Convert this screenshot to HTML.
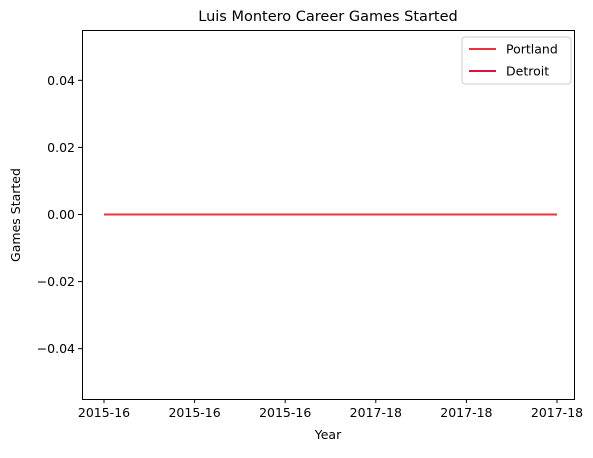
<!DOCTYPE html>
<html><head><meta charset="utf-8"><style>
body{margin:0;background:#fff}
svg text{font-family:"DejaVu Sans","Liberation Sans",sans-serif;fill:#000}
</style></head><body>
<svg id="chart" width="593" height="453" xmlns="http://www.w3.org/2000/svg">
<rect width="593" height="453" fill="#fff"/>
<text x="328" y="21" font-size="14.5" text-anchor="middle">Luis Montero Career Games Started</text>
<g id="plot"></g>
<text x="328" y="439" font-size="12.5" text-anchor="middle">Year</text>
<text transform="translate(20,215) rotate(-90)" font-size="12.5" text-anchor="middle">Games Started</text>
</svg>
<script>
const categories = ["2015-16","2015-16","2015-16","2017-18","2017-18","2017-18"];
const portland = [0,0,0,0,0,0];
const detroit = [0,0,0,0,0,0];
const yTicks = [-0.04,-0.02,0,0.02,0.04];
const seriesNames = ["Portland","Detroit"];
const seriesColors = ["#e8333d","#dc143c"];

const L=82,R=574,T=30,B=399;
const NS="http://www.w3.org/2000/svg";
const g=document.getElementById('plot');
function x(i){return 104+i*(557-104)/(categories.length-1);}
function y(v){return (T+B)/2 - v*(B-T)/0.11;}
function mk(t,a,p){const e=document.createElementNS(NS,t);for(const k in a)e.setAttribute(k,a[k]);(p||g).appendChild(e);return e;}

[detroit,portland].forEach((s,si)=>{
  const idx=si===0?1:0;
  const d=s.map((v,i)=>(i?'L':'M')+x(i)+','+y(v)).join(' ');
  const p=mk('path',{d:d,fill:'none',stroke:seriesColors[idx],'stroke-width':2});
  
  
});

const frame=mk('rect',{x:L+0.5,y:T+0.5,width:R-L,height:B-T,fill:'none',stroke:'#000','stroke-width':1});



categories.forEach((c,i)=>{
  const tk=mk('line',{x1:x(i),x2:x(i),y1:B,y2:B+4,stroke:'#000'});
  
  
  const t=mk('text',{x:x(i),y:B+18,'font-size':12.5,'text-anchor':'middle'});
  t.textContent=c;
  
  
});
yTicks.forEach(v=>{
  const tk=mk('line',{x1:L-4,x2:L,y1:y(v),y2:y(v),stroke:'#000'});
  
  
  const t=mk('text',{x:L-7,y:y(v)+4.5,'font-size':12.5,'text-anchor':'end'});
  t.textContent=(v<0?'\u2212':'')+Math.abs(v).toFixed(2);
  
  
});

const lg=mk('g',{});


mk('rect',{x:462,y:37,width:109,height:47,rx:3,fill:'#fff',stroke:'#ccc'},lg);
seriesNames.forEach((n,i)=>{
  const yy=49+i*22;
  const ln=mk('line',{x1:469,x2:496,y1:yy,y2:yy,stroke:seriesColors[i],'stroke-width':2},lg);
  
  
  const t=mk('text',{x:506,y:yy+4.5,'font-size':12.5},lg);
  t.textContent=n;
  
  
});
</script>
</body></html>
